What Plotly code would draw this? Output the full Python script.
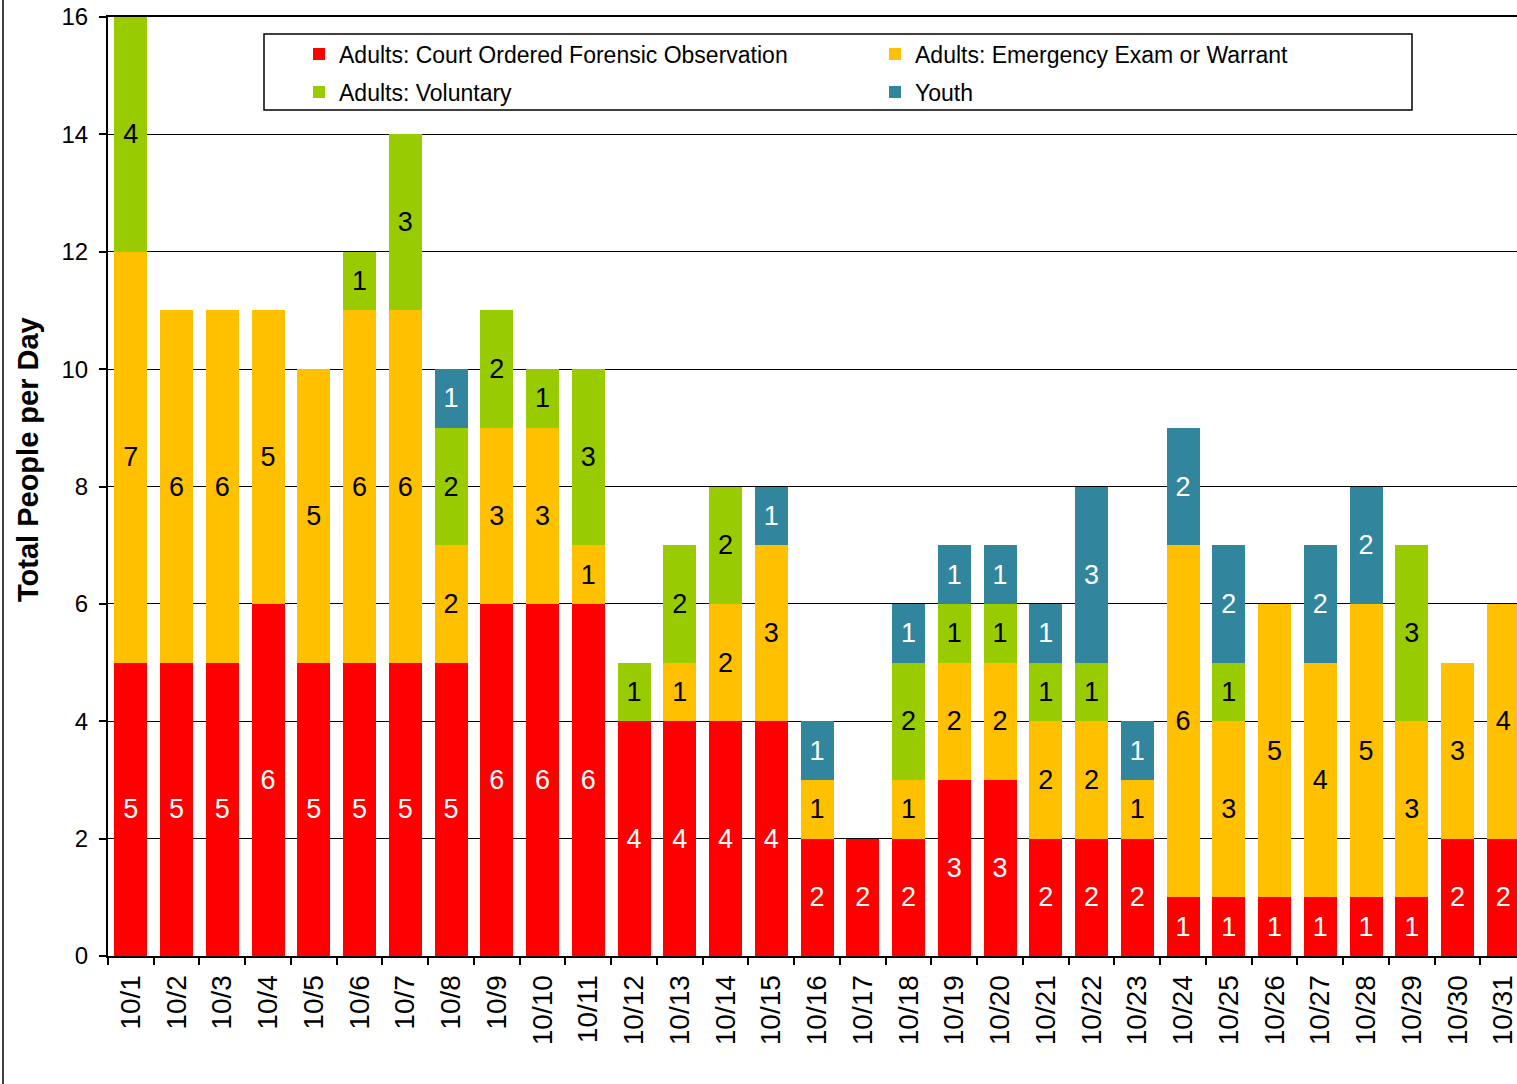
import plotly.graph_objects as go

days = [f"10/{d}" for d in range(1, 32)]

court_ordered = [5, 5, 5, 6, 5, 5, 5, 5, 6, 6, 6, 4, 4, 4, 4, 2, 2, 2, 3, 3, 2, 2, 2, 1, 1, 1, 1, 1, 1, 2, 2]
emergency = [7, 6, 6, 5, 5, 6, 6, 2, 3, 3, 1, 0, 1, 2, 3, 1, 0, 1, 2, 2, 2, 2, 1, 6, 3, 5, 4, 5, 3, 3, 4]
voluntary = [4, 0, 0, 0, 0, 1, 3, 2, 2, 1, 3, 1, 2, 2, 0, 0, 0, 2, 1, 1, 1, 1, 0, 0, 1, 0, 0, 0, 3, 0, 0]
youth = [0, 0, 0, 0, 0, 0, 0, 1, 0, 0, 0, 0, 0, 0, 1, 1, 0, 1, 1, 1, 1, 3, 1, 2, 2, 0, 2, 2, 0, 0, 0]

series = [
    ("Adults: Court Ordered Forensic Observation", court_ordered, "#FF0000", "white", "legend"),
    ("Adults: Emergency Exam or Warrant", emergency, "#FFC000", "black", "legend"),
    ("Adults: Voluntary", voluntary, "#99CC00", "black", "legend2"),
    ("Youth", youth, "#31859C", "white", "legend2"),
]

FONT = "Liberation Sans, Arial, sans-serif"

# pixel geometry helpers
L, R, T, B = 108, 0, 17, 128
W, H = 1517, 1084
PW = W - L - R
PH = H - T - B


def px_x(p):
    return (p - L) / PW


def px_y(p):
    return (H - B - p) / PH


fig = go.Figure()
for name, vals, color, tcolor, lg in series:
    fig.add_trace(go.Bar(
        x=days, y=vals, name=name,
        marker=dict(color=color, line=dict(width=0)),
        text=[str(v) if v else "" for v in vals],
        textposition="inside", insidetextanchor="middle", textangle=0,
        constraintext="none",
        textfont=dict(family=FONT, size=27, color=tcolor),
        legend=lg, hoverinfo="x+y+name",
    ))

fig.update_layout(
    width=W, height=H,
    margin=dict(l=L, r=R, t=T, b=B, pad=0),
    barmode="stack", bargap=0.28,
    plot_bgcolor="white", paper_bgcolor="white",
    font=dict(family=FONT, color="black"),
    uniformtext=dict(minsize=27, mode="show"),
    xaxis=dict(
        range=[-0.5, 30.3], type="category",
        showline=True, linecolor="black", linewidth=2, mirror=True,
        ticks="outside", tickson="boundaries", ticklen=7, tickcolor="black", tickwidth=1.5,
        tickangle=-90, tickfont=dict(family=FONT, size=28, color="black"),
        ticklabelstandoff=6,
        showgrid=False,
    ),
    yaxis=dict(
        range=[0, 16], dtick=2, tick0=0,
        showline=True, linecolor="black", linewidth=2,
        ticks="outside", ticklen=7, tickcolor="black", tickwidth=1.5,
        tickfont=dict(family=FONT, size=24, color="black"),
        ticklabelstandoff=6,
        showgrid=True, gridcolor="black", gridwidth=1,
        zeroline=False,
    ),
    legend=dict(
        orientation="h", x=px_x(299), xanchor="left", y=px_y(54), yanchor="middle",
        entrywidth=531, entrywidthmode="pixels",
        font=dict(family=FONT, size=23, color="black"),
        bgcolor="rgba(0,0,0,0)", borderwidth=0, traceorder="normal",
    ),
    legend2=dict(
        orientation="h", x=px_x(299), xanchor="left", y=px_y(92), yanchor="middle",
        entrywidth=531, entrywidthmode="pixels",
        font=dict(family=FONT, size=23, color="black"),
        bgcolor="rgba(0,0,0,0)", borderwidth=0, traceorder="normal",
    ),
    shapes=[
        dict(type="rect", xref="paper", yref="paper",
             x0=px_x(264), x1=px_x(1412), y0=px_y(110), y1=px_y(34),
             line=dict(color="black", width=1.5), fillcolor="white", layer="above"),
        dict(type="line", xref="paper", yref="paper",
             x0=px_x(3), x1=px_x(3), y0=px_y(1090), y1=px_y(-5),
             line=dict(color="black", width=1.5)),
    ],
    annotations=[
        dict(text="<b>Total People per Day</b>", textangle=-90,
             xref="paper", yref="paper", x=px_x(28), y=px_y(460),
             xanchor="center", yanchor="middle", showarrow=False,
             font=dict(family=FONT, size=29, color="black")),
    ],
)

fig.write_html("out.html", config={"displayModeBar": False},
               post_script="document.body.style.margin='0';")
